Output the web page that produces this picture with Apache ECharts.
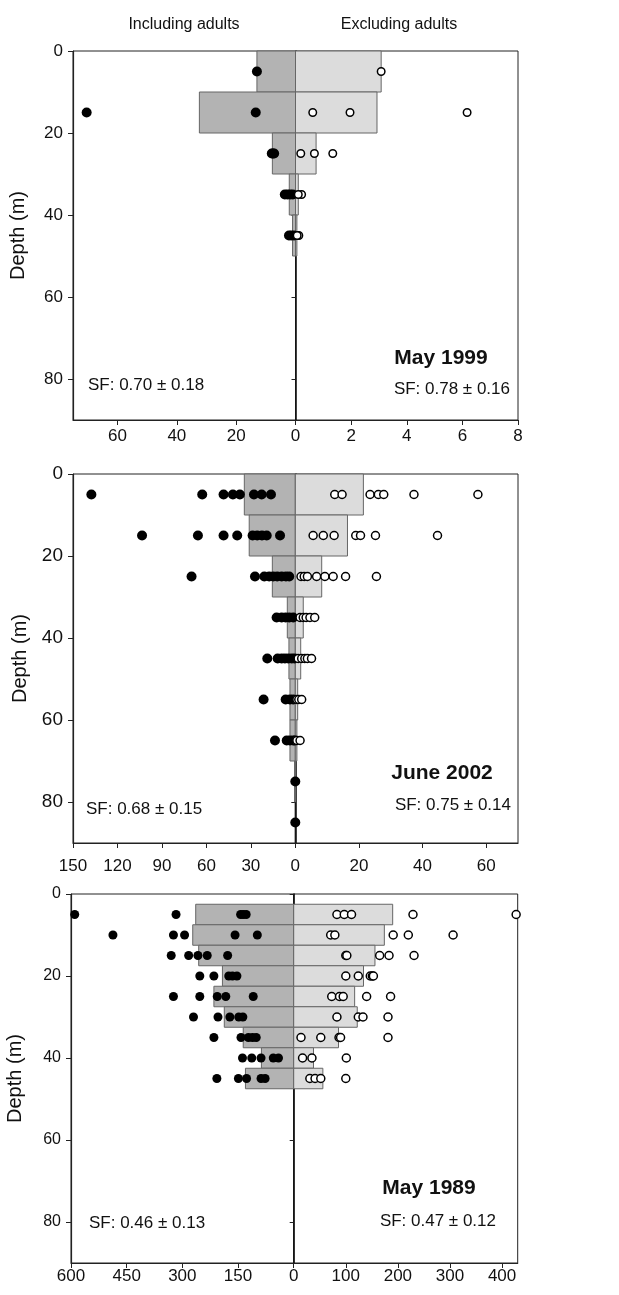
<!DOCTYPE html>
<html>
<head>
<meta charset="utf-8">
<title>Depth profiles</title>
<script src="https://cdn.jsdelivr.net/npm/echarts@6/dist/echarts.min.js"></script>
<style>
  html, body { margin: 0; padding: 0; background: #fff; }
  #chart { width: 619px; height: 1295px; }
</style>
</head>
<body>
<div id="chart"></div>
<script>
// ---- data ----
// May 1999: 10 m bins, bar = bin start depth
var may99Bins = [0, 10, 20, 30, 40];
var may99BarInc = [13.0, 32.4, 7.8, 2.1, 1.0];
var may99BarExc = [3.08, 2.93, 0.74, 0.10, 0.05];
// dots as [value, depth]
var may99DotInc = [[13.0,5],[70.4,15],[13.4,15],[7.2,25],[7.6,25],[8.0,25],
    [3.6,35],[2.7,35],[1.8,35],[0.9,35],[2.2,45],[1.4,45],[0.5,45]];
var may99DotExc = [[3.08,5],[0.62,15],[1.96,15],[6.17,15],[0.19,25],[0.68,25],[1.34,25],
    [0.22,35],[0.10,35],[0.12,45],[0.06,45]];

// June 2002: 10 m bins
var jun02Bins = [0, 10, 20, 30, 40, 50, 60, 70];
var jun02BarInc = [34.4, 31.1, 15.5, 5.4, 4.3, 3.6, 3.6, 0.5];
var jun02BarExc = [21.4, 16.4, 8.3, 2.5, 1.7, 0.75, 0.5, 0];
var jun02DotInc = [
    [137.6,5],[62.8,5],[48.4,5],[42.1,5],[37.4,5],[27.9,5],[22.7,5],[16.4,5],
    [103.4,15],[65.7,15],[48.4,15],[39.2,15],[28.8,15],[25.7,15],[22.5,15],[19.3,15],[10.3,15],
    [70.0,25],[27.2,25],[20.9,25],[17.6,25],[14.9,25],[12.2,25],[9.2,25],[6.3,25],[4.1,25],
    [12.6,35],[9.2,35],[6.5,35],[4.1,35],[1.4,35],
    [18.9,45],[11.9,45],[9.2,45],[7.0,45],[4.7,45],[2.4,45],[0.5,45],
    [21.4,55],[6.5,55],[3.6,55],[1.4,55],
    [13.7,65],[5.8,65],[3.6,65],[1.4,65],[0.3,65],
    [0,75],[0,85]];
var jun02DotExc = [
    [12.4,5],[14.7,5],[23.5,5],[26.1,5],[27.8,5],[37.3,5],[57.4,5],
    [5.6,15],[8.8,15],[12.2,15],[19.0,15],[20.5,15],[25.2,15],[44.7,15],
    [1.8,25],[2.8,25],[3.8,25],[6.7,25],[9.3,25],[11.9,25],[15.8,25],[25.5,25],
    [1.5,35],[2.5,35],[3.4,35],[4.6,35],[6.1,35],
    [0.9,45],[2.0,45],[3.0,45],[3.8,45],[5.1,45],
    [0.5,55],[1.1,55],[2.0,55],
    [0.5,65],[1.5,65]];

// May 1989: 5 m bins centred on these depths
var may89Depths = [5, 10, 15, 20, 25, 30, 35, 40, 45];
var may89BarInc = [264, 272, 256, 192, 215, 187, 136, 87, 130];
var may89BarExc = [190, 174, 156, 134, 117, 122, 86, 38, 56];
var may89DotInc = [
    [590,5],[317,5],[143,5],[136,5],[128,5],
    [487,10],[324,10],[294,10],[158,10],[98,10],
    [330,15],[283,15],[258,15],[233,15],[178,15],
    [253,20],[215,20],[175,20],[165,20],[153,20],
    [324,25],[253,25],[206,25],[183,25],[109,25],
    [270,30],[204,30],[172,30],[148,30],[137,30],
    [215,35],[142,35],[122,35],[111,35],[101,35],
    [138,40],[113,40],[88,40],[55,40],[41,40],
    [207,45],[149,45],[127,45],[88,45],[77,45]];
var may89DotExc = [
    [83,5],[97,5],[111,5],[229,5],[427,5],
    [71,10],[79,10],[191,10],[220,10],[306,10],
    [100,15],[102,15],[165,15],[183,15],[231,15],
    [100,20],[124,20],[147,20],[151,20],[153,20],
    [73,25],[88,25],[95,25],[140,25],[186,25],
    [83,30],[124,30],[133,30],[181,30],
    [14,35],[52,35],[87,35],[90,35],[181,35],
    [17,40],[35,40],[101,40],
    [31,45],[41,45],[52,45],[100,45]];

// ---- layout ----
var FONT = 'Liberation Sans, Arial, sans-serif';
var PLOT_H = 369;

var panels = [
    { top: 51, left: 73, zero: 295.5, right: 518,
      incMax: 75, incStep: 20, excMax: 8, excStep: 2,
      yFont: 17, xFont: 17, xMargin: 8, nameGap: 45,
      dot: 10, ring: 7.5,
      bars: [may99Bins, may99BarInc, may99BarExc, 10, 0],
      dots: [may99DotInc, may99DotExc],
      title: 'May 1999', titleXY: [441, 358],
      sfL: 'SF: 0.70 ± 0.18', sfLXY: [88, 385],
      sfR: 'SF: 0.78 ± 0.16', sfRXY: [510, 389] },
    { top: 474, left: 73, zero: 295.3, right: 518,
      incMax: 150, incStep: 30, excMax: 70, excStep: 20,
      yFont: 19, xFont: 17, xMargin: 15, nameGap: 43,
      dot: 10, ring: 8,
      bars: [jun02Bins, jun02BarInc, jun02BarExc, 10, 0],
      dots: [jun02DotInc, jun02DotExc],
      title: 'June 2002', titleXY: [442, 773],
      sfL: 'SF: 0.68 ± 0.15', sfLXY: [86, 809],
      sfR: 'SF: 0.75 ± 0.14', sfRXY: [511, 805] },
    { top: 894, left: 71, zero: 293.7, right: 517.7,
      incMax: 600, incStep: 150, excMax: 430, excStep: 100,
      yFont: 16, xFont: 17, xMargin: 5, nameGap: 46,
      dot: 9, ring: 8,
      bars: [may89Depths, may89BarInc, may89BarExc, 5, -2.5],
      dots: [may89DotInc, may89DotExc],
      title: 'May 1989', titleXY: [429, 1188],
      sfL: 'SF: 0.46 ± 0.13', sfLXY: [89, 1223],
      sfR: 'SF: 0.47 ± 0.12', sfRXY: [496, 1221] }
];

function rectItem(fill) {
    return function (params, api) {
        var a = api.coord([0, api.value(1)]);
        var b = api.coord([api.value(0), api.value(2)]);
        return {
            type: 'rect',
            shape: { x: Math.min(a[0], b[0]), y: a[1], width: Math.abs(b[0] - a[0]), height: b[1] - a[1] },
            style: { fill: fill, stroke: '#666', lineWidth: 1 }
        };
    };
}

function label(text, x, y, font, align) {
    return { type: 'text', x: x, y: y, z: 10,
        style: { text: text, font: font, fill: '#111', textAlign: align, textVerticalAlign: 'middle',
            align: align, verticalAlign: 'middle' } };
}

var grids = [], xAxes = [], yAxes = [], series = [], texts = [];

texts.push(label('Including adults', 184, 25, '16px ' + FONT, 'center'));
texts.push(label('Excluding adults', 399, 25, '16px ' + FONT, 'center'));

panels.forEach(function (p, k) {
    var gi = 2 * k, gj = 2 * k + 1;
    grids.push({ left: p.left, top: p.top, width: p.zero - p.left, height: PLOT_H,
        show: true, borderColor: '#222', borderWidth: 1 });
    grids.push({ left: p.zero, top: p.top, width: p.right - p.zero, height: PLOT_H,
        show: true, borderColor: '#222', borderWidth: 1 });

    var xCommon = {
        type: 'value', min: 0, position: 'bottom',
        splitLine: { show: false },
        axisLine: { show: true, onZero: false, lineStyle: { color: '#222', width: 1.2 } },
        axisTick: { show: true, length: 5, lineStyle: { color: '#222' } }
    };
    xAxes.push(Object.assign({}, xCommon, {
        gridIndex: gi, inverse: true, max: p.incMax, interval: p.incStep,
        axisLabel: { fontSize: p.xFont, fontFamily: FONT, color: '#111', margin: p.xMargin,
            showMaxLabel: p.incMax % p.incStep === 0 }
    }));
    xAxes.push(Object.assign({}, xCommon, {
        gridIndex: gj, max: p.excMax, interval: p.excStep,
        axisLabel: { fontSize: p.xFont, fontFamily: FONT, color: '#111', margin: p.xMargin,
            showMinLabel: false, showMaxLabel: p.excMax % p.excStep === 0 }
    }));

    yAxes.push({
        gridIndex: gi, type: 'value', inverse: true, min: 0, max: 90, interval: 20,
        name: 'Depth (m)', nameLocation: 'middle', nameRotate: 90, nameGap: p.nameGap,
        nameTextStyle: { fontSize: 20, fontFamily: FONT, color: '#111' },
        splitLine: { show: false },
        axisLine: { show: true, onZero: false, lineStyle: { color: '#222', width: 1.2 } },
        axisTick: { show: true, length: 5, lineStyle: { color: '#222' } },
        axisLabel: { fontSize: p.yFont, fontFamily: FONT, color: '#111', margin: 10, showMaxLabel: false }
    });
    yAxes.push({
        gridIndex: gj, type: 'value', inverse: true, min: 0, max: 90, interval: 20,
        splitLine: { show: false },
        axisLine: { show: true, onZero: false, lineStyle: { color: '#111', width: 1.6 } },
        axisTick: { show: true, length: 4, lineStyle: { color: '#222' } },
        axisLabel: { show: false }
    });

    // bars: [value, depthTop, depthBottom]
    var d = p.bars[0], w = p.bars[3], off = p.bars[4];
    var incBars = d.map(function (v, i) { return [p.bars[1][i], v + off, v + off + w]; });
    var excBars = d.map(function (v, i) { return [p.bars[2][i], v + off, v + off + w]; });
    series.push({ type: 'custom', xAxisIndex: gi, yAxisIndex: gi, renderItem: rectItem('#b3b3b3'),
        encode: { x: 0, y: [1, 2] }, data: incBars, z: 2, silent: true });
    series.push({ type: 'custom', xAxisIndex: gj, yAxisIndex: gj, renderItem: rectItem('#dcdcdc'),
        encode: { x: 0, y: [1, 2] }, data: excBars, z: 2, silent: true });

    series.push({ type: 'scatter', xAxisIndex: gi, yAxisIndex: gi, data: p.dots[0],
        symbol: 'circle', symbolSize: p.dot, itemStyle: { color: '#000', opacity: 1 }, z: 4, silent: true });
    series.push({ type: 'scatter', xAxisIndex: gj, yAxisIndex: gj, data: p.dots[1],
        symbol: 'circle', symbolSize: p.ring,
        itemStyle: { color: '#fff', borderColor: '#000', borderWidth: 1.5, opacity: 1 }, z: 4, silent: true });

    texts.push(label(p.title, p.titleXY[0], p.titleXY[1], 'bold 21px ' + FONT, 'center'));
    texts.push(label(p.sfL, p.sfLXY[0], p.sfLXY[1], '17px ' + FONT, 'left'));
    texts.push(label(p.sfR, p.sfRXY[0], p.sfRXY[1], '17px ' + FONT, 'right'));
});

var chart = echarts.init(document.getElementById('chart'));
chart.setOption({
    backgroundColor: '#fff',
    animation: false,
    grid: grids,
    xAxis: xAxes,
    yAxis: yAxes,
    series: series,
    graphic: texts
});
</script>
</body>
</html>
